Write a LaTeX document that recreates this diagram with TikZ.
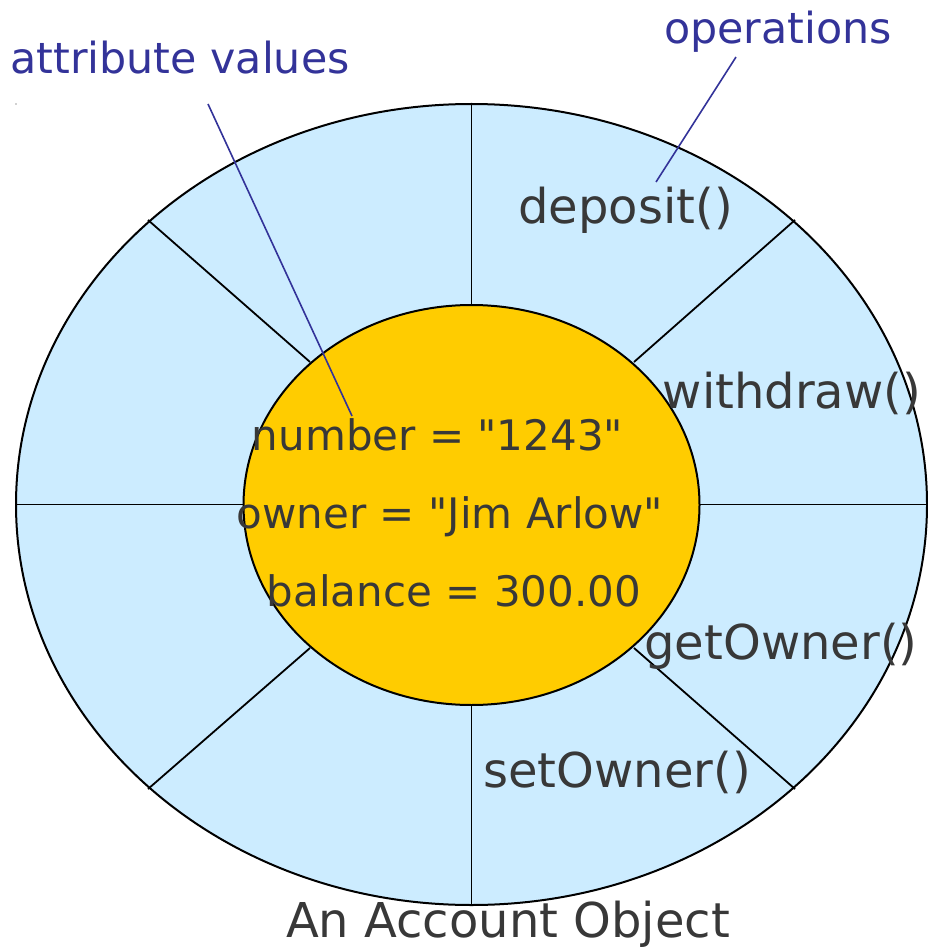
\documentclass[tikz,border=0pt]{standalone}
\usepackage{fontspec}
\setmainfont{DejaVu Sans}[Ligatures=TeXOff]
\usetikzlibrary{shapes.geometric}
\definecolor{ringblue}{HTML}{CCECFF}
\definecolor{coreyellow}{HTML}{FFCC00}
\definecolor{txtgray}{HTML}{383838}
\definecolor{labblue}{HTML}{333399}
\begin{document}
\begin{tikzpicture}[x=1pt,y=-1pt,
  optxt/.style={inner sep=0pt,anchor=base,text=txtgray,font=\fontsize{48}{56}\selectfont},
  attxt/.style={inner sep=0pt,anchor=base,text=txtgray,font=\fontsize{42}{50}\selectfont},
  labtxt/.style={inner sep=0pt,anchor=base,text=labblue,font=\fontsize{42.8}{50}\selectfont},
  spoke/.style={draw=black,line width=1.8pt},
  rim/.style={ellipse,inner sep=0pt,draw=black,line width=2pt},
  leader/.style={draw=labblue,line width=1.6pt}]
\useasboundingbox (0,0) rectangle (927,949);
% outer ring
\node[rim,minimum width=911pt,minimum height=801pt,fill=ringblue] (outer) at (471.5,504.5) {};
% spokes
\draw[spoke] (471.5,104) -- (471.5,305);
\draw[spoke] (471.5,705) -- (471.5,905);
\draw[spoke] (16,504.5) -- (244,504.5);
\draw[spoke] (700,504.5) -- (927,504.5);
\draw[spoke] (148,220) -- (310,362);
\draw[spoke] (795,220) -- (634,362);
\draw[spoke] (148,789) -- (310,648);
\draw[spoke] (795,789) -- (634,648);
% core
\node[rim,minimum width=456pt,minimum height=400pt,fill=coreyellow] (core) at (471.5,505) {};
% operations
\node[optxt] (dep) at (625.5,224) {deposit()};
\node[optxt] (wd) at (792,408) {withdraw()};
\node[optxt] (go) at (781,659) {getOwner()};
\node[optxt] (so) at (617,787) {setOwner()};
% attributes
\node[attxt] (num) at (437.5,450) {number = "1243"};
\node[attxt] (own) at (450,528) {owner = "Jim Arlow"};
\node[attxt] (bal) at (454,606) {balance = 300.00};
\node[optxt] (title) at (508,937) {An Account Object};
% labels
\node[labtxt] (attr) at (180,74) {attribute values};
\node[labtxt] (ops) at (778,44) {operations};
\coordinate (attrA) at (208,104);
\coordinate (attrB) at (352,416);
\coordinate (opsA) at (736,57);
\coordinate (opsB) at (656,182);
\draw[leader] (attrA) -- (attrB);
\draw[leader] (opsA) -- (opsB);
\fill[txtgray] (16,104) circle (0.7pt);
\end{tikzpicture}
\end{document}
